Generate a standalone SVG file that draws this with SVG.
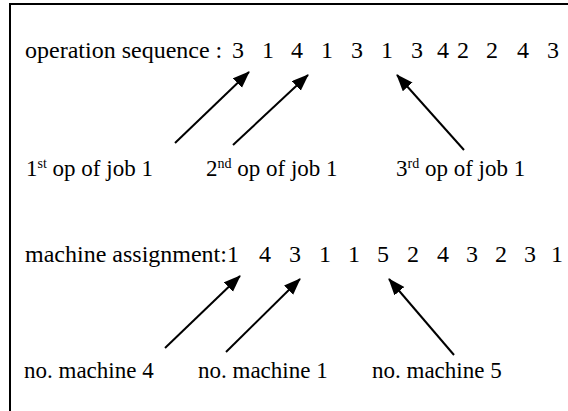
<svg xmlns="http://www.w3.org/2000/svg" width="568" height="411" viewBox="0 0 568 411">
<style>
text{font-family:'Liberation Serif','Times New Roman',serif;font-size:24px;fill:#000}
.d{text-anchor:middle}
.lb{font-size:23px}
.sup{font-size:14px}
.c line{stroke:#000;stroke-width:2;marker-end:url(#ah)}
</style>
<defs>
<marker id="ah" markerUnits="userSpaceOnUse" markerWidth="18" markerHeight="14" refX="16" refY="6.5" orient="auto">
<path d="M0,0 L17,6.5 L0,13 z" fill="#000"/>
</marker>
</defs>
<rect width="568" height="411" fill="#fff"/>
<path d="M10,411 V4 H568" fill="none" stroke="#000" stroke-width="2"/>
<g id="opseq">
<text x="25" y="58">operation sequence :</text>
<text y="58" class="d"><tspan x="238">3</tspan><tspan x="268">1</tspan><tspan x="297">4</tspan><tspan x="327">1</tspan><tspan x="357">3</tspan><tspan x="387">1</tspan><tspan x="417">3</tspan><tspan x="443">4</tspan><tspan x="463">2</tspan><tspan x="492">2</tspan><tspan x="523">4</tspan><tspan x="553">3</tspan></text>
</g>
<g id="op1"><text class="lb" x="26" y="176">1<tspan class="sup" dy="-8">st</tspan><tspan dy="8"> op of job 1</tspan></text></g>
<g id="op2"><text class="lb" x="206" y="176">2<tspan class="sup" dy="-8">nd</tspan><tspan dy="8"> op of job 1</tspan></text></g>
<g id="op3"><text class="lb" x="396" y="176">3<tspan class="sup" dy="-8">rd</tspan><tspan dy="8"> op of job 1</tspan></text></g>
<g id="mach">
<text x="25" y="262">machine assignment:</text>
<text y="262" class="d"><tspan x="233">1</tspan><tspan x="265">4</tspan><tspan x="295">3</tspan><tspan x="325">1</tspan><tspan x="354">1</tspan><tspan x="383">5</tspan><tspan x="413">2</tspan><tspan x="443">4</tspan><tspan x="472">3</tspan><tspan x="501">2</tspan><tspan x="530">3</tspan><tspan x="557">1</tspan></text>
</g>
<g id="m4"><text class="lb" x="24" y="378">no. machine 4</text></g>
<g id="m1"><text class="lb" x="198" y="378">no. machine 1</text></g>
<g id="m5"><text class="lb" x="372" y="378">no. machine 5</text></g>
<g class="c" id="connectors">
<line x1="175" y1="143" x2="249" y2="72"/>
<line x1="233" y1="145" x2="308" y2="75"/>
<line x1="464" y1="150" x2="397" y2="75"/>
<line x1="165" y1="348" x2="240" y2="276"/>
<line x1="226" y1="352" x2="300" y2="279"/>
<line x1="454" y1="355" x2="389" y2="279"/>
</g>
</svg>
